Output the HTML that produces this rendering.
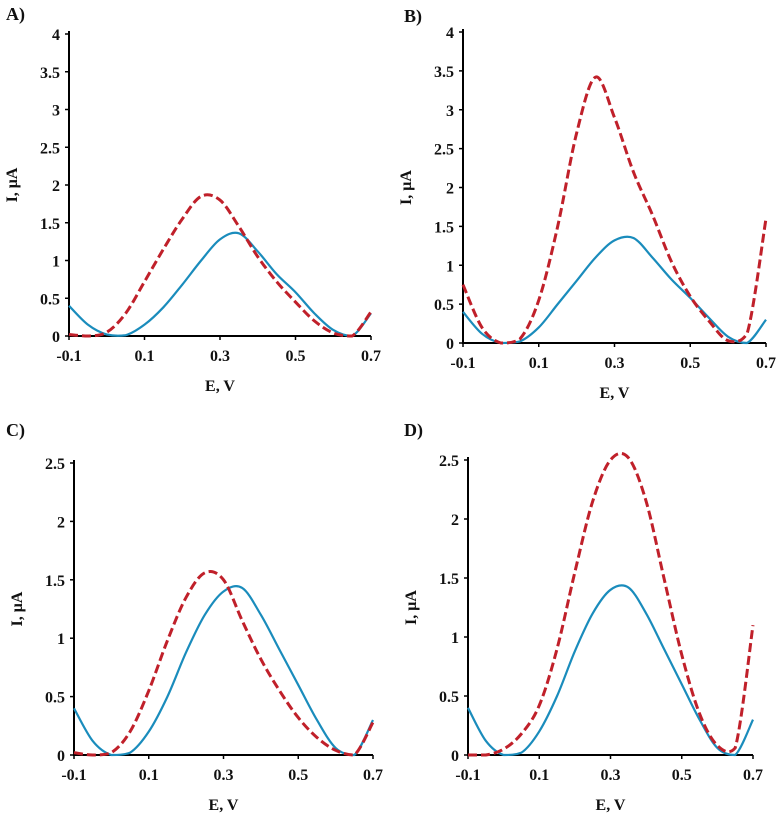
<!DOCTYPE html>
<html><head><meta charset="utf-8"><style>
body{margin:0;background:#fff;width:784px;height:822px;overflow:hidden}
svg text{font-family:"Liberation Serif",serif;font-weight:bold;fill:#111}
</style></head><body>
<svg id="s" width="784" height="822"></svg>
<script>
const xVals=[-0.1,-0.05,0,0.05,0.1,0.15,0.2,0.25,0.3,0.35,0.4,0.45,0.5,0.55,0.6,0.65,0.7];
const xTicks=[-0.1,0.1,0.3,0.5,0.7];
const xTickLabels=["-0.1","0.1","0.3","0.5","0.7"];
const yTicksAB=[0,0.5,1,1.5,2,2.5,3,3.5,4];
const yTicksCD=[0,0.5,1,1.5,2,2.5];
const blueA=[0.4,0.15,0.02,0.01,0.15,0.38,0.68,1.0,1.28,1.36,1.12,0.82,0.58,0.3,0.08,0.0,0.3];
const redA=[0.02,0.0,0.05,0.3,0.72,1.15,1.55,1.85,1.8,1.45,1.05,0.72,0.45,0.2,0.04,0.0,0.32];
const blueB=[0.4,0.12,0.0,0.02,0.2,0.5,0.8,1.1,1.32,1.35,1.1,0.82,0.58,0.32,0.08,0.0,0.3];
const redB=[0.75,0.2,0.0,0.05,0.55,1.5,2.7,3.42,2.9,2.2,1.65,1.05,0.6,0.28,0.03,0.12,1.6];
const blueC=[0.4,0.12,0.0,0.02,0.2,0.5,0.88,1.2,1.4,1.43,1.2,0.9,0.6,0.3,0.06,0.0,0.3];
const redC=[0.02,0.0,0.02,0.2,0.55,0.98,1.35,1.56,1.5,1.15,0.82,0.55,0.32,0.15,0.04,0.0,0.28];
const blueD=[0.4,0.12,0.0,0.02,0.2,0.5,0.88,1.2,1.4,1.42,1.2,0.9,0.6,0.3,0.06,0.0,0.3];
const redD=[0.0,0.0,0.05,0.18,0.42,0.9,1.55,2.15,2.5,2.52,2.15,1.5,0.85,0.35,0.08,0.06,1.1];

const NS="http://www.w3.org/2000/svg";
const svg=document.getElementById('s');
function mk(tag,attrs,parent,txt){const e=document.createElementNS(NS,tag);for(const k in attrs)e.setAttribute(k,attrs[k]);if(txt!==undefined)e.textContent=txt;parent.appendChild(e);return e;}
const panels=[
 {id:'a',label:'A)',lx:6,ly:20,x0:69,x1:371,y0:336,yTop:34,ymax:4,yt:yTicksAB,blue:blueA,red:redA},
 {id:'b',label:'B)',lx:404,ly:22,x0:463,x1:766,y0:343,yTop:32,ymax:4,yt:yTicksAB,blue:blueB,red:redB},
 {id:'c',label:'C)',lx:6,ly:436,x0:74,x1:373,y0:755,yTop:463,ymax:2.5,yt:yTicksCD,blue:blueC,red:redC},
 {id:'d',label:'D)',lx:404,ly:436,x0:468,x1:753,y0:755,yTop:460,ymax:2.5,yt:yTicksCD,blue:blueD,red:redD}
];
function path(pts,yb){const c=v=>Math.min(v,yb);let d='M'+pts[0][0]+','+pts[0][1];for(let i=0;i<pts.length-1;i++){const p0=pts[Math.max(0,i-1)],p1=pts[i],p2=pts[i+1],p3=pts[Math.min(pts.length-1,i+2)];const c1=[p1[0]+(p2[0]-p0[0])/6,c(p1[1]+(p2[1]-p0[1])/6)],c2=[p2[0]-(p3[0]-p1[0])/6,c(p2[1]-(p3[1]-p1[1])/6)];d+=' C'+c1.join(',')+' '+c2.join(',')+' '+p2.join(',');}return d;}
panels.forEach(p=>{
 const g=mk('g',{},svg);
 
 
 const X=v=>p.x0+(v+0.1)/0.8*(p.x1-p.x0);
 const Y=v=>p.y0-v/p.ymax*(p.y0-p.yTop);
 const lab=mk('text',{x:p.lx,y:p.ly,'font-size':18},g,p.label);
 
 
 const ax=mk('path',{d:`M${p.x0},${p.yTop-3}V${p.y0}H${p.x1}`,stroke:'#000','stroke-width':2,fill:'none'},g);
 
 
 p.yt.forEach(t=>{
  mk('line',{x1:p.x0-4,x2:p.x0,y1:Y(t),y2:Y(t),stroke:'#000','stroke-width':1.5},g);
  const tl=mk('text',{x:p.x0-9,y:Y(t)+6,'font-size':16,'text-anchor':'end'},g,String(t));
  
  
 });
 xTicks.forEach((t,i)=>{
  mk('line',{x1:X(t),x2:X(t),y1:p.y0,y2:p.y0+4,stroke:'#000','stroke-width':1.5},g);
  const tl=mk('text',{x:X(t),y:p.y0+25,'font-size':16,'text-anchor':'middle'},g,xTickLabels[i]);
  
  
 });
 const xt=mk('text',{x:(p.x0+p.x1)/2,y:p.y0+55,'font-size':16,'text-anchor':'middle'},g,'E, V');
 
 
 const yc=(p.y0+p.yTop)/2;
 const yt=mk('text',{x:p.x0-52,y:yc,'font-size':16,'text-anchor':'middle',transform:`rotate(-90 ${p.x0-52} ${yc})`},g,'I, μA');
 
 
 const bl=mk('path',{d:path(xVals.map((x,i)=>[X(x),Y(p.blue[i])]),p.y0),stroke:'#1a8cbc','stroke-width':2.2,fill:'none'},g);
 
 
 const rd=mk('path',{d:path(xVals.map((x,i)=>[X(x),Y(p.red[i])]),p.y0),stroke:'#c0202a','stroke-width':3,fill:'none','stroke-dasharray':'9,4'},g);
 
 
});
</script>
</body></html>
